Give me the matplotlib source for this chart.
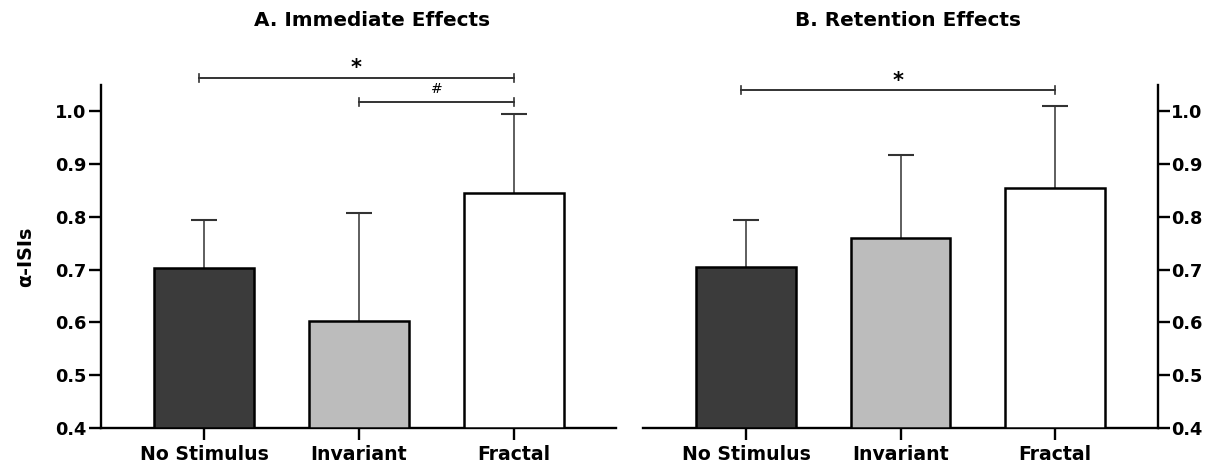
import matplotlib
matplotlib.use("Agg")
import matplotlib.pyplot as plt

categories = ["No Stimulus", "Invariant", "Fractal"]
immediate_means = [0.703, 0.603, 0.846]
immediate_err = [0.090, 0.205, 0.149]
retention_means = [0.704, 0.759, 0.855]
retention_err = [0.090, 0.158, 0.155]
yticks = [0.4, 0.5, 0.6, 0.7, 0.8, 0.9, 1.0]
bar_colors = ["#3b3b3b", "#bcbcbc", "#ffffff"]

plt.rcParams["font.family"] = ["DejaVu Sans"]
plt.rcParams["font.weight"] = "bold"

W, H = 1211, 467
fig = plt.figure(figsize=(W / 100, H / 100), dpi=100)
axL = fig.add_axes([101 / W, (H - 427.7) / H, 515 / W, (427.7 - 85) / H])
axR = fig.add_axes([643 / W, (H - 427.7) / H, 515 / W, (427.7 - 85) / H])

x = list(range(len(categories)))

def draw(ax, means, errs, side):
    ax.bar(x, [m - 0.4 for m in means], bottom=0.4, width=0.645, color=bar_colors,
           edgecolor="black", linewidth=1.8, zorder=3)
    eb = ax.errorbar(x, means, yerr=[[0] * len(errs), errs], fmt="none", ecolor="#333333",
                     elinewidth=1.1, capsize=9.6, capthick=1.5, zorder=2)
    caplines = eb[1]
    if len(caplines) >= 2:
        caplines[0].set_visible(False)
    ax.set_ylim(0.4, 1.05)
    ax.set_xlim(-0.665, 2.66)
    ax.set_yticks(yticks)
    ax.set_yticklabels([f"{v:.1f}" for v in yticks], fontsize=12.8, fontweight="bold")
    ax.set_xticks(x)
    ax.set_xticklabels(categories, fontsize=13.6, fontweight="bold")
    ax.spines["top"].set_visible(False)
    for s in ["left", "right", "bottom"]:
        ax.spines[s].set_linewidth(1.7)
    ax.tick_params(axis="x", length=8.6, width=1.7, pad=4)
    if side == "left":
        ax.spines["right"].set_visible(False)
        ax.tick_params(axis="y", length=8.6, width=1.7, pad=2)
    else:
        ax.spines["left"].set_visible(False)
        ax.yaxis.tick_right()
        ax.tick_params(axis="y", length=8.6, width=1.7, pad=0.5)

draw(axL, immediate_means, immediate_err, "left")
draw(axR, retention_means, retention_err, "right")
axR.set_xlim(-0.667, 2.667)

axL.set_ylabel("α-ISIs", fontsize=13.8, fontweight="bold", labelpad=14)

def bracket(ax, x0, x1, y, label, size, weight, offset):
    ax.plot([x0, x1], [y, y], color="#333333", lw=1.4, clip_on=False, zorder=5)
    for xx in (x0, x1):
        ax.plot([xx, xx], [y - 0.008, y + 0.008], color="#333333", lw=1.2, clip_on=False, zorder=5)
    ax.annotate(label, xy=((x0 + x1) / 2, y), xytext=(0, offset), textcoords="offset points",
                ha="center", va="center", fontsize=size, fontweight=weight, annotation_clip=False)

bracket(axL, -0.035, 2.0, 1.063, "*", 15, "bold", 7.5)
bracket(axL, 1.0, 2.0, 1.018, "#", 10, "normal", 9.5)
bracket(axR, -0.03, 2.0, 1.040, "*", 15, "bold", 7)

fig.text(372 / W, 1 - 20 / H, "A. Immediate Effects", ha="center", va="center",
         fontsize=14.4, fontweight="bold")
fig.text(908 / W, 1 - 20 / H, "B. Retention Effects", ha="center", va="center",
         fontsize=14.4, fontweight="bold")

fig.savefig("out.png", dpi=100)
